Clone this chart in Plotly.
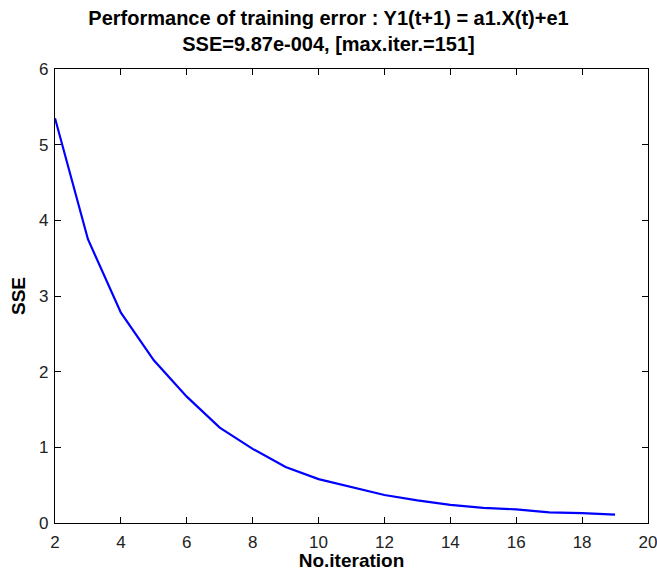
import plotly.graph_objects as go

iterations = list(range(2, 20))
sse = [5.35, 3.75, 2.78, 2.15, 1.67, 1.26, 0.98, 0.74, 0.58, 0.47, 0.37, 0.30, 0.24, 0.20, 0.18, 0.14, 0.13, 0.11]
x_ticks = [2, 4, 6, 8, 10, 12, 14, 16, 18, 20]
y_ticks = [0, 1, 2, 3, 4, 5, 6]

FONT = "Liberation Sans, Arial"

fig = go.Figure()
fig.add_trace(go.Scatter(x=iterations, y=sse, mode="lines",
                         line=dict(color="#0000FF", width=2.2), showlegend=False))

axis_common = dict(showgrid=False, zeroline=False, showline=True, linecolor="black", linewidth=1.3,
                   mirror="ticks", ticks="inside", ticklen=6, tickcolor="black", tickwidth=1.2,
                   automargin=False, ticklabeloverflow="allow",
                   tickfont=dict(family=FONT, size=17, color="#222222"))

fig.update_layout(
    width=657, height=571,
    paper_bgcolor="white", plot_bgcolor="white",
    margin=dict(l=55, r=9, t=69, b=48),
    title=dict(text="<b>Performance of training error : Y1(t+1) = a1.X(t)+e1<br>SSE=9.87e-004, [max.iter.=151]</b>",
               x=0.5, xanchor="center", xref="container", yref="container", y=1 - 25 / 571, yanchor="top",
               font=dict(family=FONT, size=20, color="black")),
    xaxis=dict(range=[2, 20], tickvals=x_ticks, ticklabelstandoff=3,
               title=dict(text="<b>No.iteration</b>", standoff=5,
                          font=dict(family=FONT, size=19, color="black")),
               **axis_common),
    yaxis=dict(range=[0, 6], tickvals=y_ticks, ticklabelstandoff=2,
               title=dict(text="<b>SSE</b>", standoff=8,
                          font=dict(family=FONT, size=19, color="black")),
               **axis_common),
)

fig.write_html("out.html", config={"displayModeBar": False},
               post_script="document.body.style.margin='0px';")
